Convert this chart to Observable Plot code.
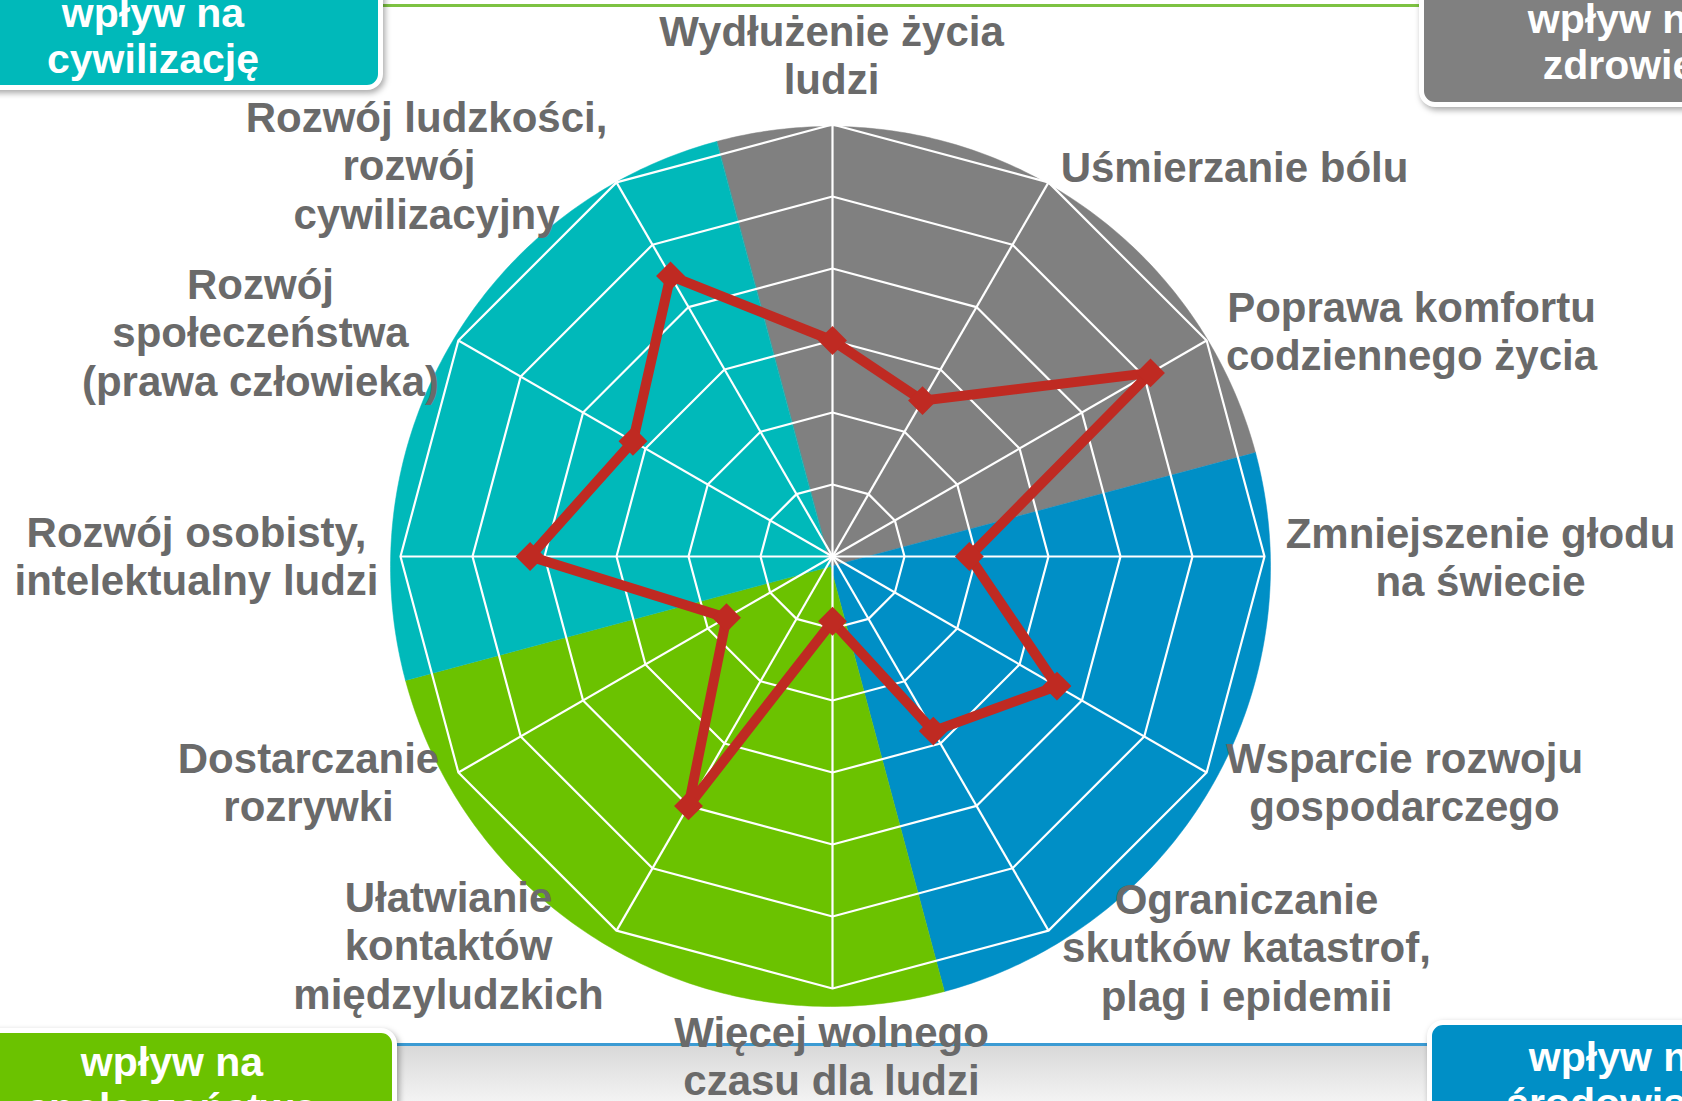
<!DOCTYPE html>
<html>
<head>
<meta charset="utf-8">
<script src="https://cdn.jsdelivr.net/npm/d3@7"></script>
<script src="https://cdn.jsdelivr.net/npm/@observablehq/plot@0.6"></script>
<style>
  html, body { margin: 0; padding: 0; background: #ffffff; overflow: hidden; }
  #stage { position: relative; width: 1682px; height: 1101px; overflow: hidden; font-family: "Liberation Sans", Arial, sans-serif; }
  #chart { position: absolute; left: 0; top: 0; z-index: 1; }
  .deco { position: absolute; z-index: 0; }
  .box { position: absolute; z-index: 2; box-sizing: content-box; border: 5px solid #ffffff; border-radius: 16px;
         box-shadow: 2px 3px 6px rgba(0,0,0,0.35); }
  .boxtext { position: absolute; z-index: 3; color: #ffffff; font-weight: bold; font-size: 41px; line-height: 46px;
             text-align: center; white-space: pre; transform: translateX(-50%); }
</style>
</head>
<body>
<div id="stage">
  <div class="deco" style="left:370px; top:4px; width:1060px; height:2.5px; background:#7dc242;"></div>
  <div class="deco" style="left:0; top:1045px; width:1682px; height:56px; background:linear-gradient(#d8d8d8, #f3f3f3);"></div>
  <div class="deco" style="left:0; top:1043px; width:1682px; height:2.5px; background:#3b9bd3;"></div>
  <div id="chart"></div>
</div>
<script>
// ---------------- data ----------------
const categories = [
  "Wydłużenie życia\nludzi",
  "Uśmierzanie bólu",
  "Poprawa komfortu\ncodziennego życia",
  "Zmniejszenie głodu\nna świecie",
  "Wsparcie rozwoju\ngospodarczego",
  "Ograniczanie\nskutków katastrof,\nplag i epidemii",
  "Więcej wolnego\nczasu dla ludzi",
  "Ułatwianie\nkontaktów\nmiędzyludzkich",
  "Dostarczanie\nrozrywki",
  "Rozwój osobisty,\nintelektualny ludzi",
  "Rozwój\nspołeczeństwa\n(prawa człowieka)",
  "Rozwój ludzkości,\nrozwój\u00a0\u00a0\u00a0\ncywilizacyjny"
];
const values = [3.0, 2.5, 5.1, 1.9, 3.6, 2.8, 0.9, 4.0, 1.7, 4.2, 3.2, 4.5];
const gridLevels = [1, 2, 3, 4, 5, 6];
const groupNames = ["wpływ na\nzdrowie", "wpływ na\nśrodowisko", "wpływ na\nspołeczeństwo", "wpływ na\ncywilizację"];
const groupShares = [1, 1, 1, 1];
const groupColors = ["#808080", "#008fc6", "#6bc200", "#00b9ba"];

// ---------------- layout ----------------
const W = 1682, H = 1101;
const CX = 832, CY = 556, U = 72;           // radar centre (px) and px per grid step
const PIE_DX = -2, PIE_DY = 10, PIE_R = 440; // background disc offset / radius (px)
const labelCenters = [                       // label block centres (px)
  [831, 54], [1234, 166], [1411, 330], [1480, 556], [1404, 781], [1246, 946],
  [831, 1055], [448, 944], [308, 781], [196, 555], [260, 331], [426, 164]
];
const toUx = px => (px - CX) / U;
const toUy = py => (CY - py) / U;

const n = categories.length;
const ang = i => (i * 2 * Math.PI) / n;
const polar = (r, a) => [r * Math.sin(a), r * Math.cos(a)];

// background sectors (pie)
const pie = d3.pie().sort(null).value(d => d)
  .startAngle(-15 * Math.PI / 180).endAngle(345 * Math.PI / 180)(groupShares);
const pcx = toUx(CX + PIE_DX), pcy = toUy(CY + PIE_DY), pr = PIE_R / U;
const sectorPts = [];
pie.forEach((p, k) => {
  sectorPts.push({k, x: pcx, y: pcy});
  const steps = 120;
  for (let s = 0; s <= steps; s++) {
    const a = p.startAngle + (p.endAngle - p.startAngle) * s / steps;
    const [x, y] = polar(pr, a);
    sectorPts.push({k, x: pcx + x, y: pcy + y});
  }
});

const ringPts = gridLevels.flatMap(l => categories.map((c, i) => {
  const [x, y] = polar(l, ang(i));
  return {l, x, y};
}));
const spokes = categories.map((c, i) => {
  const [x, y] = polar(d3.max(gridLevels), ang(i));
  return {x, y};
});
const seriesPts = values.map((v, i) => {
  const [x, y] = polar(v, ang(i));
  return {x, y, v};
});
const labels = categories.map((c, i) => ({text: c, x: toUx(labelCenters[i][0]), y: toUy(labelCenters[i][1])}));

const chart = Plot.plot({
  width: W, height: H, margin: 0,
  x: {domain: [toUx(0), toUx(W)], axis: null},
  y: {domain: [toUy(H), toUy(0)], axis: null},
  style: {background: "transparent", overflow: "visible"},
  marks: [
    Plot.line(sectorPts, {x: "x", y: "y", z: "k", fill: d => groupColors[d.k], stroke: d => groupColors[d.k], strokeWidth: 0.5, curve: "linear-closed"}),
    Plot.line(ringPts, {x: "x", y: "y", z: "l", stroke: "#ffffff", strokeWidth: 2.2, curve: "linear-closed"}),
    Plot.link(spokes, {x1: 0, y1: 0, x2: "x", y2: "y", stroke: "#ffffff", strokeWidth: 2.2}),
    Plot.line(seriesPts, {x: "x", y: "y", stroke: "#bf2a22", strokeWidth: 10, curve: "linear-closed", strokeLinejoin: "miter"}),
    Plot.dot(seriesPts, {x: "x", y: "y", symbol: "diamond2", r: 13, fill: "#bf2a22", stroke: "none"}),
    Plot.text(labels, {x: "x", y: "y", text: "text", fontSize: 42, fontWeight: "bold",
      fontFamily: "Liberation Sans, Arial, sans-serif", fill: "#6a6a6a", lineHeight: 1.155,
      textAnchor: "middle", lineAnchor: "middle"})
  ]
});
document.getElementById("chart").appendChild(chart);

// corner boxes (legend of the coloured groups)
const boxLayout = [ // inner left, top, right, bottom, text centre x, first line centre y
  [1424, -40, 1814, 102, 1619, 19],
  [1432, 1025, 1808, 1200, 1620, 1057],
  [-49, 1033, 392, 1200, 172, 1062],
  [-72, -40, 378, 85, 153, 13]
];
const stage = document.getElementById("stage");
groupNames.forEach((g, k) => {
  const [l, t, r, b, tx, ty] = boxLayout[k];
  const box = document.createElement("div");
  box.className = "box";
  box.style.left = (l - 5) + "px";
  box.style.top = (t - 5) + "px";
  box.style.width = (r - l) + "px";
  box.style.height = (b - t) + "px";
  box.style.background = groupColors[k];
  stage.appendChild(box);
  const txt = document.createElement("div");
  txt.className = "boxtext";
  txt.textContent = g;
  txt.style.left = tx + "px";
  txt.style.top = (ty - 23) + "px";
  stage.appendChild(txt);
});
</script>
</body>
</html>
